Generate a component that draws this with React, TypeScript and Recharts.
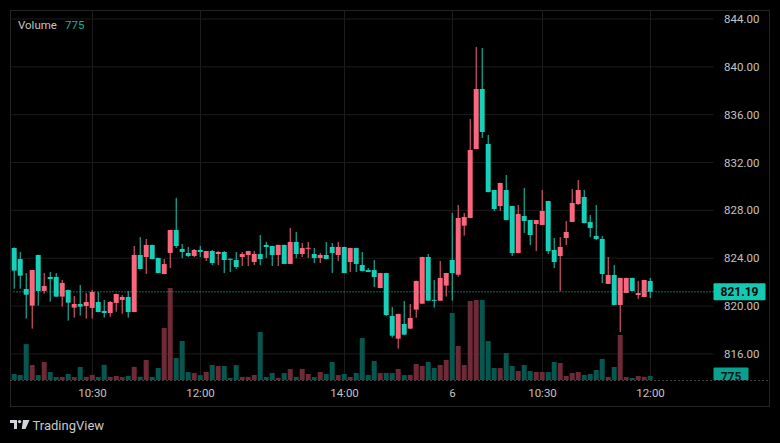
import React from 'react';
import { ComposedChart, Bar, XAxis, YAxis, CartesianGrid, ReferenceLine } from 'recharts';

const OPEN = [824.85, 823.93, 821.43, 820.03, 824.27, 821.26, 822.43, 822.43, 820.79, 821.34, 819.87, 820.17, 820.00, 819.84, 820.34, 819.59, 819.42, 820.26, 820.51, 820.76, 819.50, 824.27, 824.10, 825.11, 824.02, 822.68, 824.44, 826.36, 824.77, 824.44, 824.19, 824.69, 824.02, 824.60, 824.35, 824.52, 823.95, 823.85, 824.10, 824.27, 823.68, 824.35, 825.11, 825.02, 824.27, 825.11, 823.52, 825.36, 824.35, 824.83, 824.35, 824.02, 824.27, 824.94, 824.27, 824.94, 823.68, 824.85, 823.43, 823.01, 823.01, 821.51, 822.76, 819.17, 817.27, 818.50, 818.11, 819.70, 820.20, 824.10, 820.52, 820.45, 821.71, 823.85, 822.62, 826.72, 827.36, 833.13, 838.15, 833.55, 829.70, 828.36, 829.70, 828.36, 824.43, 827.53, 827.19, 826.86, 826.78, 828.78, 824.69, 824.18, 825.69, 827.03, 828.53, 829.12, 827.03, 825.86, 825.61, 821.85, 822.60, 820.09, 821.09, 822.35, 820.92, 820.76, 822.10];
const HIGH = [824.90, 824.52, 822.76, 823.01, 824.30, 822.76, 822.85, 822.76, 822.18, 821.38, 820.84, 821.76, 821.09, 821.34, 821.18, 820.51, 820.42, 821.03, 820.92, 821.26, 825.02, 825.77, 825.61, 825.13, 824.04, 823.93, 826.38, 829.04, 825.19, 824.94, 824.77, 825.02, 824.62, 824.69, 824.60, 824.60, 823.97, 824.52, 824.52, 824.62, 824.60, 825.94, 825.36, 825.04, 825.13, 825.13, 826.53, 826.19, 825.27, 825.36, 824.85, 824.44, 825.36, 825.27, 825.36, 824.96, 824.87, 824.87, 824.52, 823.18, 823.85, 822.78, 822.78, 819.92, 819.36, 820.42, 820.17, 822.12, 824.12, 824.35, 822.18, 823.77, 822.78, 827.78, 828.45, 827.78, 835.64, 841.66, 841.58, 834.30, 829.72, 830.31, 830.96, 828.38, 828.45, 829.87, 827.21, 827.21, 829.70, 828.80, 825.69, 825.77, 827.11, 829.79, 830.54, 829.70, 827.61, 828.45, 825.86, 824.10, 823.43, 822.37, 822.37, 822.37, 822.10, 822.20, 822.35];
const LOW = [821.45, 821.45, 818.95, 818.11, 820.03, 821.04, 820.37, 820.75, 819.95, 818.78, 819.03, 819.20, 818.95, 818.95, 819.48, 819.03, 819.11, 819.53, 819.36, 819.03, 819.48, 823.08, 822.68, 823.91, 822.74, 822.66, 823.18, 824.85, 824.02, 824.10, 824.10, 824.10, 823.77, 823.43, 823.43, 822.76, 822.85, 823.10, 823.35, 823.35, 823.43, 823.43, 824.02, 823.35, 823.35, 823.50, 823.50, 824.02, 824.10, 824.02, 823.60, 823.60, 823.91, 822.76, 823.77, 822.74, 822.85, 822.85, 822.91, 822.83, 821.59, 821.49, 819.17, 817.36, 816.44, 817.59, 818.09, 819.03, 820.18, 820.43, 819.87, 820.43, 820.79, 820.45, 822.45, 825.89, 827.34, 833.11, 834.05, 829.51, 827.95, 827.95, 827.17, 824.18, 824.41, 826.11, 825.10, 824.60, 826.76, 824.35, 823.18, 821.26, 825.10, 827.01, 828.45, 826.92, 825.77, 825.52, 821.93, 821.83, 820.07, 817.83, 821.07, 821.24, 820.59, 820.74, 820.67];
const CLOSE = [822.96, 822.54, 820.95, 823.01, 821.26, 821.68, 822.26, 820.79, 821.93, 820.28, 820.17, 819.95, 820.34, 821.18, 819.50, 819.42, 820.34, 821.01, 820.76, 819.50, 824.27, 823.10, 825.11, 823.93, 822.76, 823.51, 826.36, 825.02, 824.52, 824.19, 824.69, 824.52, 824.60, 823.60, 824.52, 823.85, 823.90, 823.27, 824.35, 824.60, 824.35, 823.93, 824.94, 824.27, 825.11, 823.52, 825.36, 824.35, 824.85, 824.87, 824.02, 824.27, 823.93, 824.44, 824.94, 822.76, 824.85, 823.52, 822.93, 822.85, 822.43, 822.76, 819.25, 817.52, 819.34, 817.61, 819.00, 822.10, 824.10, 820.45, 820.45, 822.35, 822.76, 822.76, 827.36, 827.45, 833.05, 838.15, 834.55, 829.53, 828.11, 830.29, 827.19, 824.43, 827.70, 827.11, 825.94, 827.19, 827.95, 824.60, 823.68, 824.94, 826.19, 828.62, 829.70, 826.94, 826.53, 825.61, 822.68, 822.60, 820.09, 822.35, 822.35, 821.26, 821.09, 822.18, 821.19];
const VOLUME = [1160, 980, 6950, 2900, 960, 3480, 1550, 590, 600, 1170, 570, 2520, 610, 990, 580, 2930, 600, 790, 560, 810, 2540, 620, 3870, 590, 2330, 10080, 17830, 4260, 7560, 1540, 1370, 940, 1560, 2910, 2700, 2720, 410, 2890, 580, 600, 970, 9300, 590, 1360, 400, 1350, 2130, 610, 2150, 1170, 580, 1550, 1160, 3490, 960, 1170, 590, 1360, 8140, 980, 3680, 1350, 1370, 1340, 2140, 950, 990, 3100, 2710, 3500, 2320, 2910, 3880, 12980, 6590, 2900, 15310, 15500, 15520, 7550, 2330, 2310, 5230, 2710, 1740, 2920, 1750, 1550, 1560, 1540, 3490, 3300, 780, 1360, 1550, 970, 1160, 1940, 4070, 580, 2520, 8720, 590, 390, 770, 600, 775];

const TICK_INDEX = [13, 31, 55, 73, 88, 106];
const TICK_LABELS = ['10:30', '12:00', '14:00', '6', '10:30', '12:00'];
const PRICE_TICKS = [816, 820, 824, 828, 832, 836, 840, 844];
const PRICE_DOMAIN = [813.816, 844.753];
const VOLUME_DOMAIN = [0, 71690];
const LAST_PRICE = 821.19;
const LAST_VOLUME = 775;
const EMPTY_SLOTS = 10;

const UP = '#f8677e';
const DOWN = '#18d0ba';
const UP_VOL = '#6e2a36';
const DOWN_VOL = '#06574f';
const TEXT = '#c3c3c3';
const FONT = 'Roboto, sans-serif';

const data: any[] = [];
for (let i = 0; i < OPEN.length + EMPTY_SLOTS; i++) {
  if (i < OPEN.length) {
    data.push({ i, open: OPEN[i], high: HIGH[i], low: LOW[i], close: CLOSE[i], range: [LOW[i], HIGH[i]], volume: VOLUME[i] });
  } else {
    data.push({ i });
  }
}

const Candle = (props: any) => {
  const { x, y, width, height, payload } = props;
  if (!payload || payload.open == null) return null;
  const { open, close, high, low } = payload;
  const top = Math.min(y, y + height);
  const h = Math.abs(height);
  const ppu = h / (high - low);
  const cx = x + width / 2;
  const yO = top + (high - open) * ppu;
  const yC = top + (high - close) * ppu;
  const color = close >= open ? UP : DOWN;
  const bt = Math.min(yO, yC);
  const bh = Math.max(1, Math.abs(yO - yC));
  return (
    <g>
      <rect x={cx - 0.5} y={top} width={1} height={h} fill={color} />
      <rect x={cx - 2.5} y={bt} width={5} height={bh} fill={color} />
    </g>
  );
};

const VolBar = (props: any) => {
  const { x, y, width, height, payload } = props;
  if (!payload || payload.volume == null) return null;
  const top = Math.min(y, y + height);
  const h = Math.abs(height);
  const cx = x + width / 2;
  const color = payload.close >= payload.open ? UP_VOL : DOWN_VOL;
  return <rect x={cx - 2.5} y={top} width={5} height={h} fill={color} />;
};

const PriceTag = (props: any) => {
  const vb = props.viewBox || {};
  const right = vb.x + vb.width;
  const y = vb.y;
  return (
    <g>
      <rect x={right} y={y - 8.5} width={52} height={17} fill="#14c9b3" rx={1} />
      <text x={right + 26} y={y + 4.3} textAnchor="middle" fontSize={12} fontWeight={700} fill="#050505" fontFamily={FONT}>
        {LAST_PRICE.toFixed(2)}
      </text>
    </g>
  );
};

const VolTag = (props: any) => {
  const vb = props.viewBox || {};
  const right = vb.x + vb.width;
  const y = vb.y;
  return (
    <g>
      <defs>
        <clipPath id="volTagClip">
          <rect x={0} y={0} width={780} height={380} />
        </clipPath>
      </defs>
      <g clipPath="url(#volTagClip)">
        <rect x={right} y={y - 8.5} width={35} height={17} fill="#0aa08f" rx={1} />
        <text x={right + 17.5} y={y + 4.6} textAnchor="middle" fontSize={12} fontWeight={700} fill="#061a17" fontFamily={FONT}>
          {String(LAST_VOLUME)}
        </text>
      </g>
    </g>
  );
};

export default function App() {
  return (
    <div style={{ position: 'absolute', left: 0, top: 0, width: 780, height: 443, background: '#000', overflow: 'hidden', fontFamily: FONT }}>
      <ComposedChart
        width={780}
        height={443}
        data={data}
        margin={{ top: 10, right: 0, bottom: 0, left: 11.5 }}
        barCategoryGap={0}
        barGap={0}
      >
        <CartesianGrid stroke="#1c1c1c" strokeWidth={1} syncWithTicks />
        <XAxis
          dataKey="i"
          type="category"
          ticks={TICK_INDEX}
          interval={0}
          height={63}
          tickLine={false}
          axisLine={false}
          tickSize={0}
          tickMargin={9}
          tick={{ fill: TEXT, fontSize: 11.5, fontFamily: FONT }}
          tickFormatter={(v: any) => {
            const k = TICK_INDEX.indexOf(Number(v));
            return k >= 0 ? TICK_LABELS[k] : '';
          }}
        />
        <XAxis dataKey="i" type="category" xAxisId="v" hide />
        <YAxis
          orientation="right"
          type="number"
          domain={PRICE_DOMAIN}
          allowDataOverflow
          ticks={PRICE_TICKS}
          interval={0}
          width={66.5}
          tickLine={false}
          axisLine={false}
          tickSize={0}
          tickMargin={10.5}
          tick={{ fill: TEXT, fontSize: 11.5, fontFamily: FONT }}
          tickFormatter={(v: any) => Number(v).toFixed(2)}
        />
        <YAxis yAxisId="vol" type="number" domain={VOLUME_DOMAIN} allowDataOverflow hide />
        <Bar dataKey="volume" xAxisId="v" yAxisId="vol" barSize={6} shape={VolBar} isAnimationActive={false} />
        <Bar dataKey="range" barSize={6} shape={Candle} isAnimationActive={false} />
        <ReferenceLine y={LAST_PRICE} stroke="#14c9b3" strokeDasharray="1 2" strokeWidth={1} label={<PriceTag />} />
        <ReferenceLine y={LAST_VOLUME} xAxisId="v" yAxisId="vol" stroke="none" label={<VolTag />} />
      </ComposedChart>
      <svg width={780} height={443} style={{ position: 'absolute', left: 0, top: 0, pointerEvents: 'none' }}>
        <rect x={10.5} y={10.5} width={759} height={396} fill="none" stroke="#242424" strokeWidth={1} />
        <line x1={10} y1={380.5} x2={770} y2={380.5} stroke="#444" strokeDasharray="2 2" />
        <text x={18} y={29} fontSize={11.5} fill={TEXT} fontFamily={FONT}>Volume</text>
        <text x={65} y={29} fontSize={11.5} fill="#12b5a2" fontFamily={FONT}>{String(LAST_VOLUME)}</text>
        <g fill="#d1d4dc">
          <path d="M10 420 H17 V429 H14 V423 H10 Z" />
          <circle cx={19.6} cy={421.6} r={1.7} />
          <path d="M23 420 H29.5 L25.5 429 H21.8 Z" />
        </g>
        <text x={32.5} y={430.3} fontSize={13} fill="#c8c8c8" fontFamily={FONT}>TradingView</text>
      </svg>
    </div>
  );
}
